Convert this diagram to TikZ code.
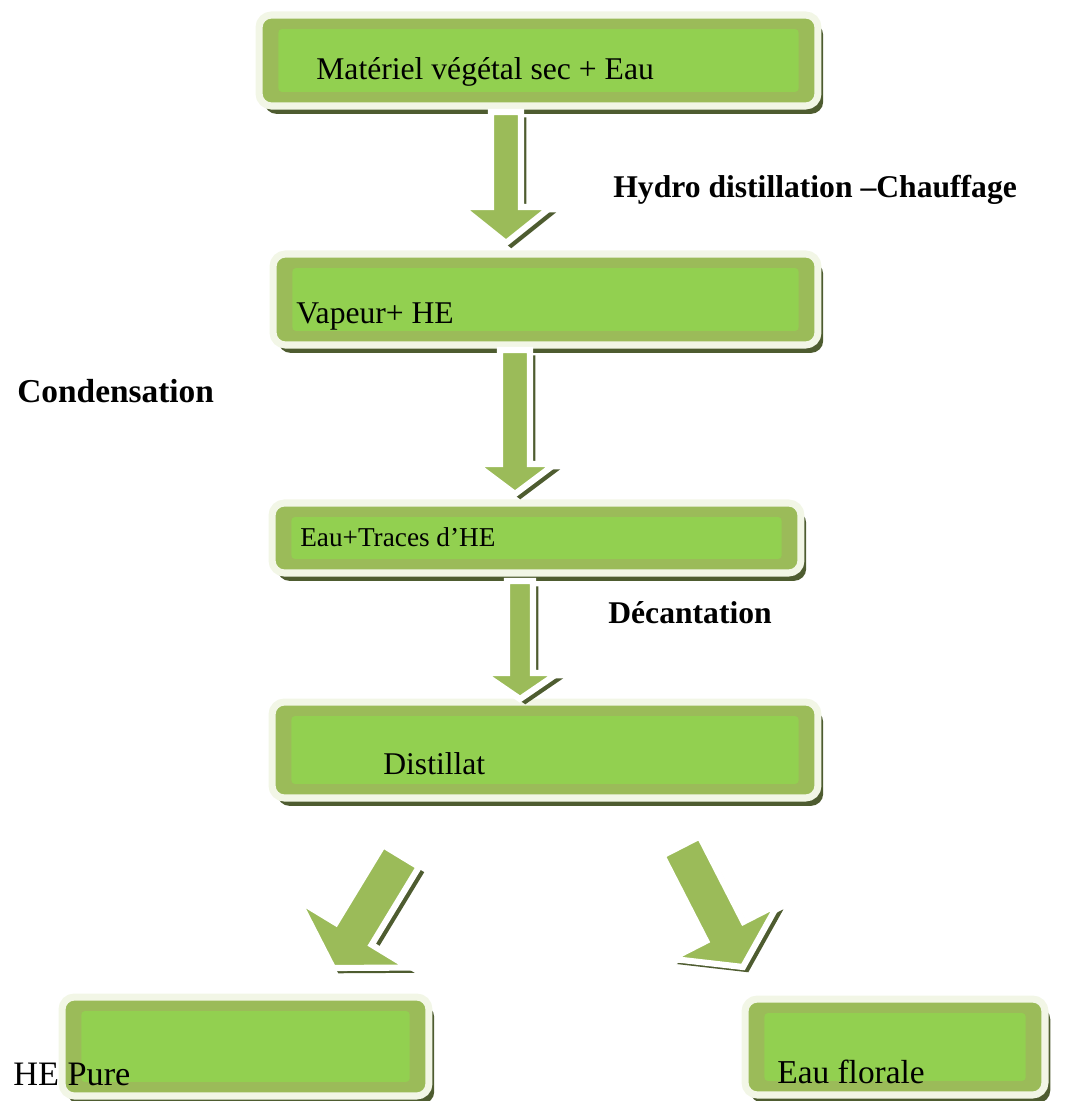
\documentclass[tikz,border=0pt]{standalone}
\usepackage{fontspec}
\setmainfont{Liberation Serif}
\usetikzlibrary{calc}
\definecolor{vertbord}{HTML}{9BBB59}
\definecolor{vertclair}{HTML}{92D050}
\definecolor{liseret}{HTML}{F2F6E6}
\definecolor{ombre}{HTML}{4E5C30}
\tikzset{
  etape/.style  = {rectangle, rounded corners=7pt, fill=vertbord, draw=liseret, line width=4pt, inner sep=0,
                   preaction={fill=ombre, transform canvas={xshift=3pt, yshift=-4.5pt}},
                   path picture={\fill[vertclair, rounded corners=2pt]
                     ([shift={(11pt,-8pt)}]path picture bounding box.north west) rectangle
                     ([shift={(-11pt,8pt)}]path picture bounding box.south east);}},
  fleche/.style = {fill=vertbord, draw=white, line width=3.5pt, line join=miter,
                   preaction={fill=ombre, transform canvas={xshift=3pt, yshift=-3pt}}},
  txt/.style    = {anchor=base west, inner sep=0, font=\fontsize{18}{20}\selectfont},
  lbl/.style    = {anchor=base west, inner sep=0, font=\bfseries\fontsize{18}{20}\selectfont}
}
% depart, pointe, demi-largeur tige, demi-largeur tete, longueur tete
\newcommand\blocfleche[5]{%
  \coordinate (tb) at ($(#2)!#5!(#1)$);
  \path[fleche] ($(#1)!#3!90:(#2)$) -- ($(tb)!#3!90:(#2)$) -- ($(tb)!#4!90:(#2)$) -- (#2)
    -- ($(tb)!#4!-90:(#2)$) -- ($(tb)!#3!-90:(#2)$) -- ($(#1)!#3!-90:(#2)$) -- cycle;
}

\begin{document}
\begin{tikzpicture}[x=0.02cm, y=-0.02cm]
  \useasboundingbox (0,0) rectangle (1077,1101);

  % boites
  \node[etape, minimum width=11.18cm, minimum height=1.82cm] (mat) at (538.5,60.5)  {};
  \node[etape, minimum width=10.9cm,  minimum height=1.82cm] (vap) at (545.5,299.5) {};
  \node[etape, minimum width=10.58cm, minimum height=1.4cm]  (tra) at (536.5,538)   {};
  \node[etape, minimum width=10.92cm, minimum height=1.92cm] (dis) at (545,750)     {};
  \node[etape, minimum width=7.34cm,  minimum height=1.98cm] (hep) at (245.5,1046.5){};
  \node[etape, minimum width=6.0cm,   minimum height=1.92cm] (flo) at (895,1047)    {};

  % fleches
  \coordinate (f1a) at (506,112); \coordinate (f1b) at (506,243);
  \coordinate (f2a) at (515,350); \coordinate (f2b) at (515,494);
  \coordinate (f3a) at (520,581); \coordinate (f3b) at (520,699);
  \coordinate (f4a) at (401,856); \coordinate (f4b) at (333,968);
  \coordinate (f5a) at (681,846); \coordinate (f5b) at (743,967);
  \blocfleche{f1a}{f1b}{0.3cm}{0.9cm}{0.72cm}
  \blocfleche{f2a}{f2b}{0.3cm}{0.8cm}{0.6cm}
  \blocfleche{f3a}{f3b}{0.26cm}{0.76cm}{0.52cm}
  \blocfleche{f4a}{f4b}{0.42cm}{1.3cm}{0.8cm}
  \blocfleche{f5a}{f5b}{0.42cm}{1.2cm}{0.8cm}

  % textes
  \node[txt] (t1) at (316,80)  {Matériel végétal sec + Eau};
  \node[txt] (t2) at (296,323) {Vapeur+ HE};
  \node[txt, font=\fontsize{15.5}{18}\selectfont] (t3) at (300,546) {Eau+Traces d’HE};
  \node[txt] (t4) at (383,774) {Distillat};
  \node[txt, font=\fontsize{19.5}{22}\selectfont] (t5) at (13,1085) {HE Pure};
  \node[txt, font=\fontsize{19}{22}\selectfont] (t6) at (777,1083) {Eau florale};

  \node[lbl] (l1) at (613,198) {Hydro distillation –Chauffage};
  \node[lbl, font=\bfseries\fontsize{19}{22}\selectfont] (l2) at (17,402) {Condensation};
  \node[lbl] (l3) at (608,623) {Décantation};
\end{tikzpicture}
\end{document}
